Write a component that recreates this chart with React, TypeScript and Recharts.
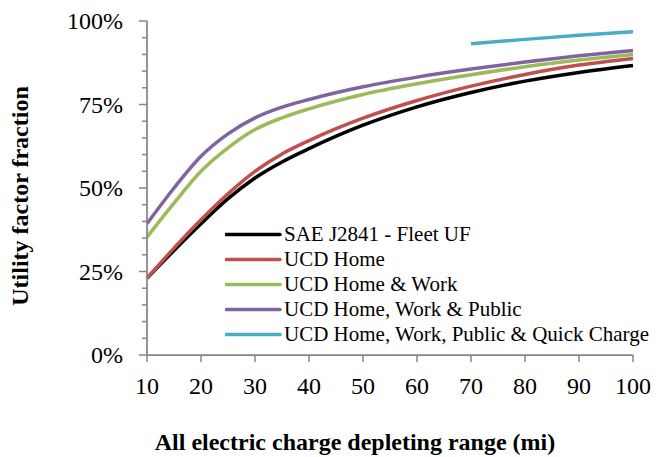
import React from 'react';
import { LineChart, Line, XAxis, YAxis, Label } from 'recharts';

const ranges = [10, 15, 20, 25, 30, 35, 40, 50, 60, 70, 80, 90, 100];
const saeFleet = [23, 31.3, 39.3, 46.8, 53, 57.8, 61.8, 68.8, 74.3, 78.6, 82, 84.6, 86.7];
const ucdHome = [23, 32, 40.5, 48.3, 55, 60.2, 64.2, 70.9, 76.2, 80.5, 84, 86.8, 88.8];
const ucdHomeWork = [35.3, 45.5, 55, 62, 67.5, 71, 73.7, 78, 81.2, 83.9, 86.3, 88.3, 90];
const ucdHomeWorkPublic = [39.3, 50, 59.5, 66.2, 71, 74.2, 76.5, 80.3, 83.2, 85.6, 87.7, 89.6, 91.2];
const ucdQuick = [null, null, null, null, null, null, null, null, null, 93.2, 94.5, 95.7, 96.8];

const xTicks = [10, 20, 30, 40, 50, 60, 70, 80, 90, 100];
const yTicks = [0, 5, 10, 15, 20, 25, 30, 35, 40, 45, 50, 55, 60, 65, 70, 75, 80, 85, 90, 95, 100];

const series = [
  { key: 'sae', name: 'SAE J2841 - Fleet UF', color: '#000000' },
  { key: 'home', name: 'UCD Home', color: '#C0504D' },
  { key: 'homeWork', name: 'UCD Home & Work', color: '#9BBB59' },
  { key: 'homeWorkPublic', name: 'UCD Home, Work & Public', color: '#8064A2' },
  { key: 'quick', name: 'UCD Home, Work, Public & Quick Charge', color: '#4BACC6' },
];

const data = ranges.map((r, i) => ({
  range: r,
  sae: saeFleet[i],
  home: ucdHome[i],
  homeWork: ucdHomeWork[i],
  homeWorkPublic: ucdHomeWorkPublic[i],
  quick: ucdQuick[i],
}));

const FONT = '"Liberation Serif", "Times New Roman", serif';
const AXIS = '#868686';

const YTick = (props: any) => {
  const { x, y, payload } = props;
  const v = payload.value;
  const major = v % 25 === 0;
  return (
    <g>
      <line x1={x - (major ? 8 : 5)} x2={x} y1={y} y2={y} stroke={AXIS} strokeWidth={1.5} />
      {major && (
        <text x={x - 24} y={y} dy="0.35em" textAnchor="end" fontSize={24} style={{ fontFamily: FONT }} fill="#000">
          {v}%
        </text>
      )}
    </g>
  );
};

export default function App() {
  return (
    <div style={{ position: 'absolute', left: 0, top: 0, width: 658, height: 457, background: '#fff', fontFamily: FONT }}>
      <LineChart width={658} height={457} data={data} margin={{ top: 21, right: 25, left: 0, bottom: 0 }}>
        <XAxis
          dataKey="range"
          type="number"
          domain={[10, 100]}
          ticks={xTicks}
          height={102}
          tickSize={7}
          tickMargin={15}
          axisLine={{ stroke: AXIS, strokeWidth: 1.75 }}
          tickLine={{ stroke: AXIS, strokeWidth: 1.5 }}
          tick={{ fill: '#000', fontSize: 24, style: { fontFamily: FONT } }}
        >
          <Label
            content={() => (
              <text x={355} y={450} textAnchor="middle" fontSize={24} fontWeight="bold" style={{ fontFamily: FONT }} fill="#000">
                All electric charge depleting range (mi)
              </text>
            )}
          />
        </XAxis>
        <YAxis
          type="number"
          domain={[0, 100]}
          ticks={yTicks}
          width={147}
          tickSize={0}
          tickMargin={0}
          interval={0}
          axisLine={{ stroke: AXIS, strokeWidth: 1.75 }}
          tickLine={false}
          tick={<YTick />}
        >
          <Label
            content={() => (
              <text
                x={28}
                y={196}
                transform="rotate(-90, 28, 196)"
                textAnchor="middle"
                fontSize={24}
                fontWeight="bold"
                style={{ fontFamily: FONT }}
                fill="#000"
              >
                Utility factor fraction
              </text>
            )}
          />
        </YAxis>
        {series.map((s) => (
          <Line
            key={s.key}
            dataKey={s.key}
            name={s.name}
            type="monotone"
            stroke={s.color}
            strokeWidth={3.5}
            dot={false}
            isAnimationActive={false}
          />
        ))}
      </LineChart>
      <div style={{ position: 'absolute', left: 225, top: 222, fontSize: 21, color: '#000' }}>
        {series.map((s) => (
          <div key={s.key} style={{ display: 'flex', alignItems: 'center', height: 25, whiteSpace: 'nowrap' }}>
            <svg width={59} height={25} style={{ flex: 'none' }}>
              <line x1={1} x2={55} y1={12.5} y2={12.5} stroke={s.color} strokeWidth={3.5} strokeLinecap="round" />
            </svg>
            <span style={{ lineHeight: '25px' }}>{s.name}</span>
          </div>
        ))}
      </div>
    </div>
  );
}
